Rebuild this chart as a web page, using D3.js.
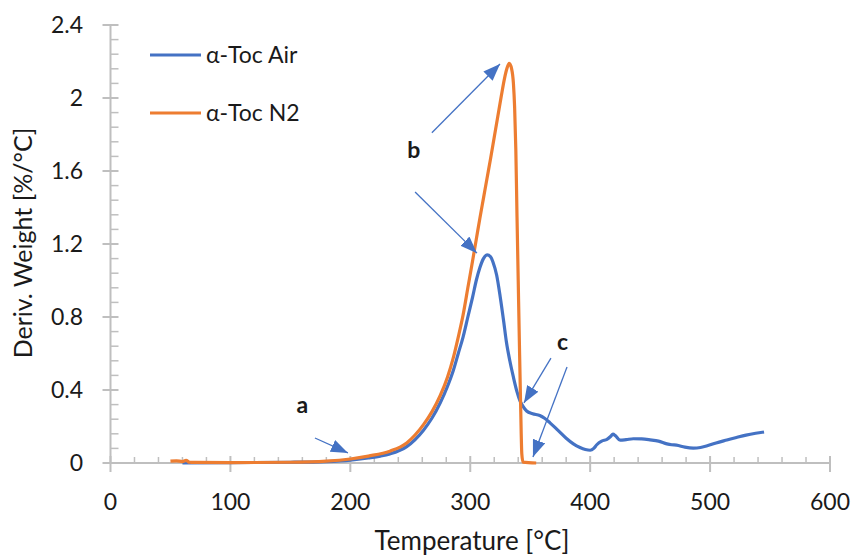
<!DOCTYPE html>
<html><head><meta charset="utf-8">
<script src="https://cdn.jsdelivr.net/npm/d3@7"></script>
<style>
body{margin:0;background:#fff}
svg text{font-family:Lato,"Open Sans",sans-serif;fill:#1a1a1a}
</style>
</head><body>
<svg id="chart" width="854" height="558"></svg>
<script>
// ---- data ----
const airTemp  = [60,100,150,180,200,215,225,233,247,261,268,275,281,286,290,294,298,302,305,308,311,314,317,319,322,325,328,330,333,336,339,341.5,344,347,352,358,362,366.5,373,380,386,391.5,396,400,403,405.5,409.6,414,417,419,421,425,430,436,443,450,457,464,468,472,479,486,492,497,505,514,522,530,538,545];
const airValue = [0,0.002,0.004,0.008,0.016,0.028,0.038,0.05,0.09,0.18,0.245,0.33,0.42,0.51,0.6,0.69,0.8,0.91,1.0,1.07,1.12,1.14,1.13,1.1,1.03,0.91,0.77,0.67,0.56,0.47,0.39,0.34,0.31,0.285,0.27,0.26,0.245,0.22,0.18,0.136,0.105,0.085,0.074,0.07,0.08,0.1,0.12,0.13,0.145,0.158,0.15,0.125,0.128,0.133,0.132,0.127,0.12,0.105,0.1,0.098,0.087,0.082,0.085,0.093,0.11,0.126,0.14,0.153,0.163,0.17];
const n2Temp   = [50,55,60,63,66,70,100,150,180,200,215,233,247,261,268,275,281,286,290,294,298,302,305,308,311,314,317,320,323,326,328.5,330.5,332.5,334.5,336,337,338,339,340,341,342,343,344,355];
const n2Value  = [0.01,0.012,0.008,0.014,0.004,0.003,0.002,0.004,0.01,0.022,0.038,0.065,0.11,0.21,0.28,0.37,0.47,0.58,0.69,0.81,0.96,1.11,1.225,1.34,1.45,1.56,1.67,1.785,1.9,2.015,2.105,2.16,2.19,2.16,2.08,1.95,1.72,1.35,1.0,0.65,0.32,0.05,0.005,0];
const seriesNames = ["α-Toc Air", "α-Toc N2"];
const xTicks = [0,100,200,300,400,500,600];
const yTicks = [0,0.4,0.8,1.2,1.6,2,2.4];
const xTitle = "Temperature [°C]";
const yTitle = "Deriv. Weight [%/°C]";
// annotations (data units)
const noteLabels = ["a","b","c"];
const noteTemp   = [160,253,377];
const noteValue  = [0.274,1.67,0.62];
const arrowFromTemp  = [170.5,268,254,367.3,380.7];
const arrowFromValue = [0.137,1.81,1.485,0.575,0.526];
const arrowToTemp    = [198,324.8,305.6,344.8,352.3];
const arrowToValue   = [0.055,2.186,1.15,0.329,0.033];

// ---- drawing ----
const svg = d3.select("#chart");
const x = d3.scaleLinear().domain([0,600]).range([110.5,830]);
const y = d3.scaleLinear().domain([0,2.4]).range([463,25]);
const axisColor = "#bfbfbf";
const blue = "#4472c4", orange = "#ed7d31";

const defs = svg.append("defs");
defs.append("marker").attr("id","ah").attr("viewBox","0 0 10 10")
  .attr("refX",10).attr("refY",5).attr("markerUnits","userSpaceOnUse")
  .attr("markerWidth",17).attr("markerHeight",13).attr("orient","auto")
  .attr("preserveAspectRatio","none")
  .append("path").attr("d","M0,0 L10,5 L0,10 Z").attr("fill",blue);

const g = svg.append("g");
// minor ticks
const xMinor = d3.range(0,601,20).filter(v=>v%100!==0);
const yMinor = d3.range(0,2.41,0.08).map(v=>+v.toFixed(2)).filter(v=>Math.abs(v/0.4-Math.round(v/0.4))>1e-6);
g.selectAll(".xmin").data(xMinor).join("line")
  .attr("x1",d=>x(d)).attr("x2",d=>x(d)).attr("y1",y(0)).attr("y2",y(0)-6)
  .attr("stroke",axisColor).attr("stroke-width",1.5);
g.selectAll(".xmaj").data(xTicks).join("line")
  .attr("x1",d=>x(d)).attr("x2",d=>x(d)).attr("y1",y(0)-7).attr("y2",y(0)+9)
  .attr("stroke",axisColor).attr("stroke-width",2);
g.selectAll(".ymin").data(yMinor).join("line")
  .attr("x1",x(0)).attr("x2",x(0)+8).attr("y1",d=>y(d)).attr("y2",d=>y(d))
  .attr("stroke",axisColor).attr("stroke-width",1.5);
g.selectAll(".ymaj").data(yTicks).join("line")
  .attr("x1",x(0)-8).attr("x2",x(0)+8).attr("y1",d=>y(d)).attr("y2",d=>y(d))
  .attr("stroke",axisColor).attr("stroke-width",2);
g.append("line").attr("x1",x(0)).attr("x2",x(600)).attr("y1",y(0)).attr("y2",y(0))
  .attr("stroke",axisColor).attr("stroke-width",2);
g.append("line").attr("x1",x(0)).attr("x2",x(0)).attr("y1",y(0)).attr("y2",y(2.4))
  .attr("stroke",axisColor).attr("stroke-width",2);

// tick labels
g.selectAll(".xl").data(xTicks).join("text")
  .attr("x",d=>x(d)).attr("y",510).attr("text-anchor","middle")
  .attr("font-size",23).text(d=>d);
g.selectAll(".yl").data(yTicks).join("text")
  .attr("x",83).attr("y",d=>y(d)).attr("dy","0.36em").attr("text-anchor","end")
  .attr("font-size",23).text(d=>d);

// titles
svg.append("text").attr("x",472).attr("y",550).attr("text-anchor","middle")
  .attr("font-size",26).text(xTitle);
svg.append("text").attr("transform","translate(32,243) rotate(-90)")
  .attr("text-anchor","middle").attr("font-size",25).text(yTitle);

// lines
const line = d3.line().curve(d3.curveMonotoneX).x(d=>x(d[0])).y(d=>y(d[1]));
const airData = airTemp.map((t,i)=>[t,airValue[i]]);
const n2Data = n2Temp.map((t,i)=>[t,n2Value[i]]);
svg.append("path").datum(airData).attr("d",line).attr("fill","none")
  .attr("stroke",blue).attr("stroke-width",3.2).attr("stroke-linejoin","round");
svg.append("path").datum(n2Data).attr("d",line).attr("fill","none")
  .attr("stroke",orange).attr("stroke-width",3.2).attr("stroke-linejoin","round");

// legend
const legendColors = [blue, orange];
const lg = svg.append("g");
seriesNames.forEach((name,i)=>{
  const ly = 55 + i*58;
  lg.append("line").attr("x1",150).attr("x2",201).attr("y1",ly).attr("y2",ly)
    .attr("stroke",legendColors[i]).attr("stroke-width",3);
  lg.append("text").attr("x",206).attr("y",ly).attr("dy","0.36em")
    .attr("font-size",23).text(name);
});

// annotations
arrowFromTemp.forEach((t,i)=>{
  svg.append("line").attr("x1",x(t)).attr("y1",y(arrowFromValue[i]))
    .attr("x2",x(arrowToTemp[i])).attr("y2",y(arrowToValue[i]))
    .attr("stroke",blue).attr("stroke-width",1.3).attr("marker-end","url(#ah)");
});
noteLabels.forEach((l,i)=>{
  svg.append("text").attr("x",x(noteTemp[i])).attr("y",y(noteValue[i]))
    .attr("text-anchor","middle").attr("font-size",23).attr("font-weight","bold").text(l);
});
</script>
</body></html>
